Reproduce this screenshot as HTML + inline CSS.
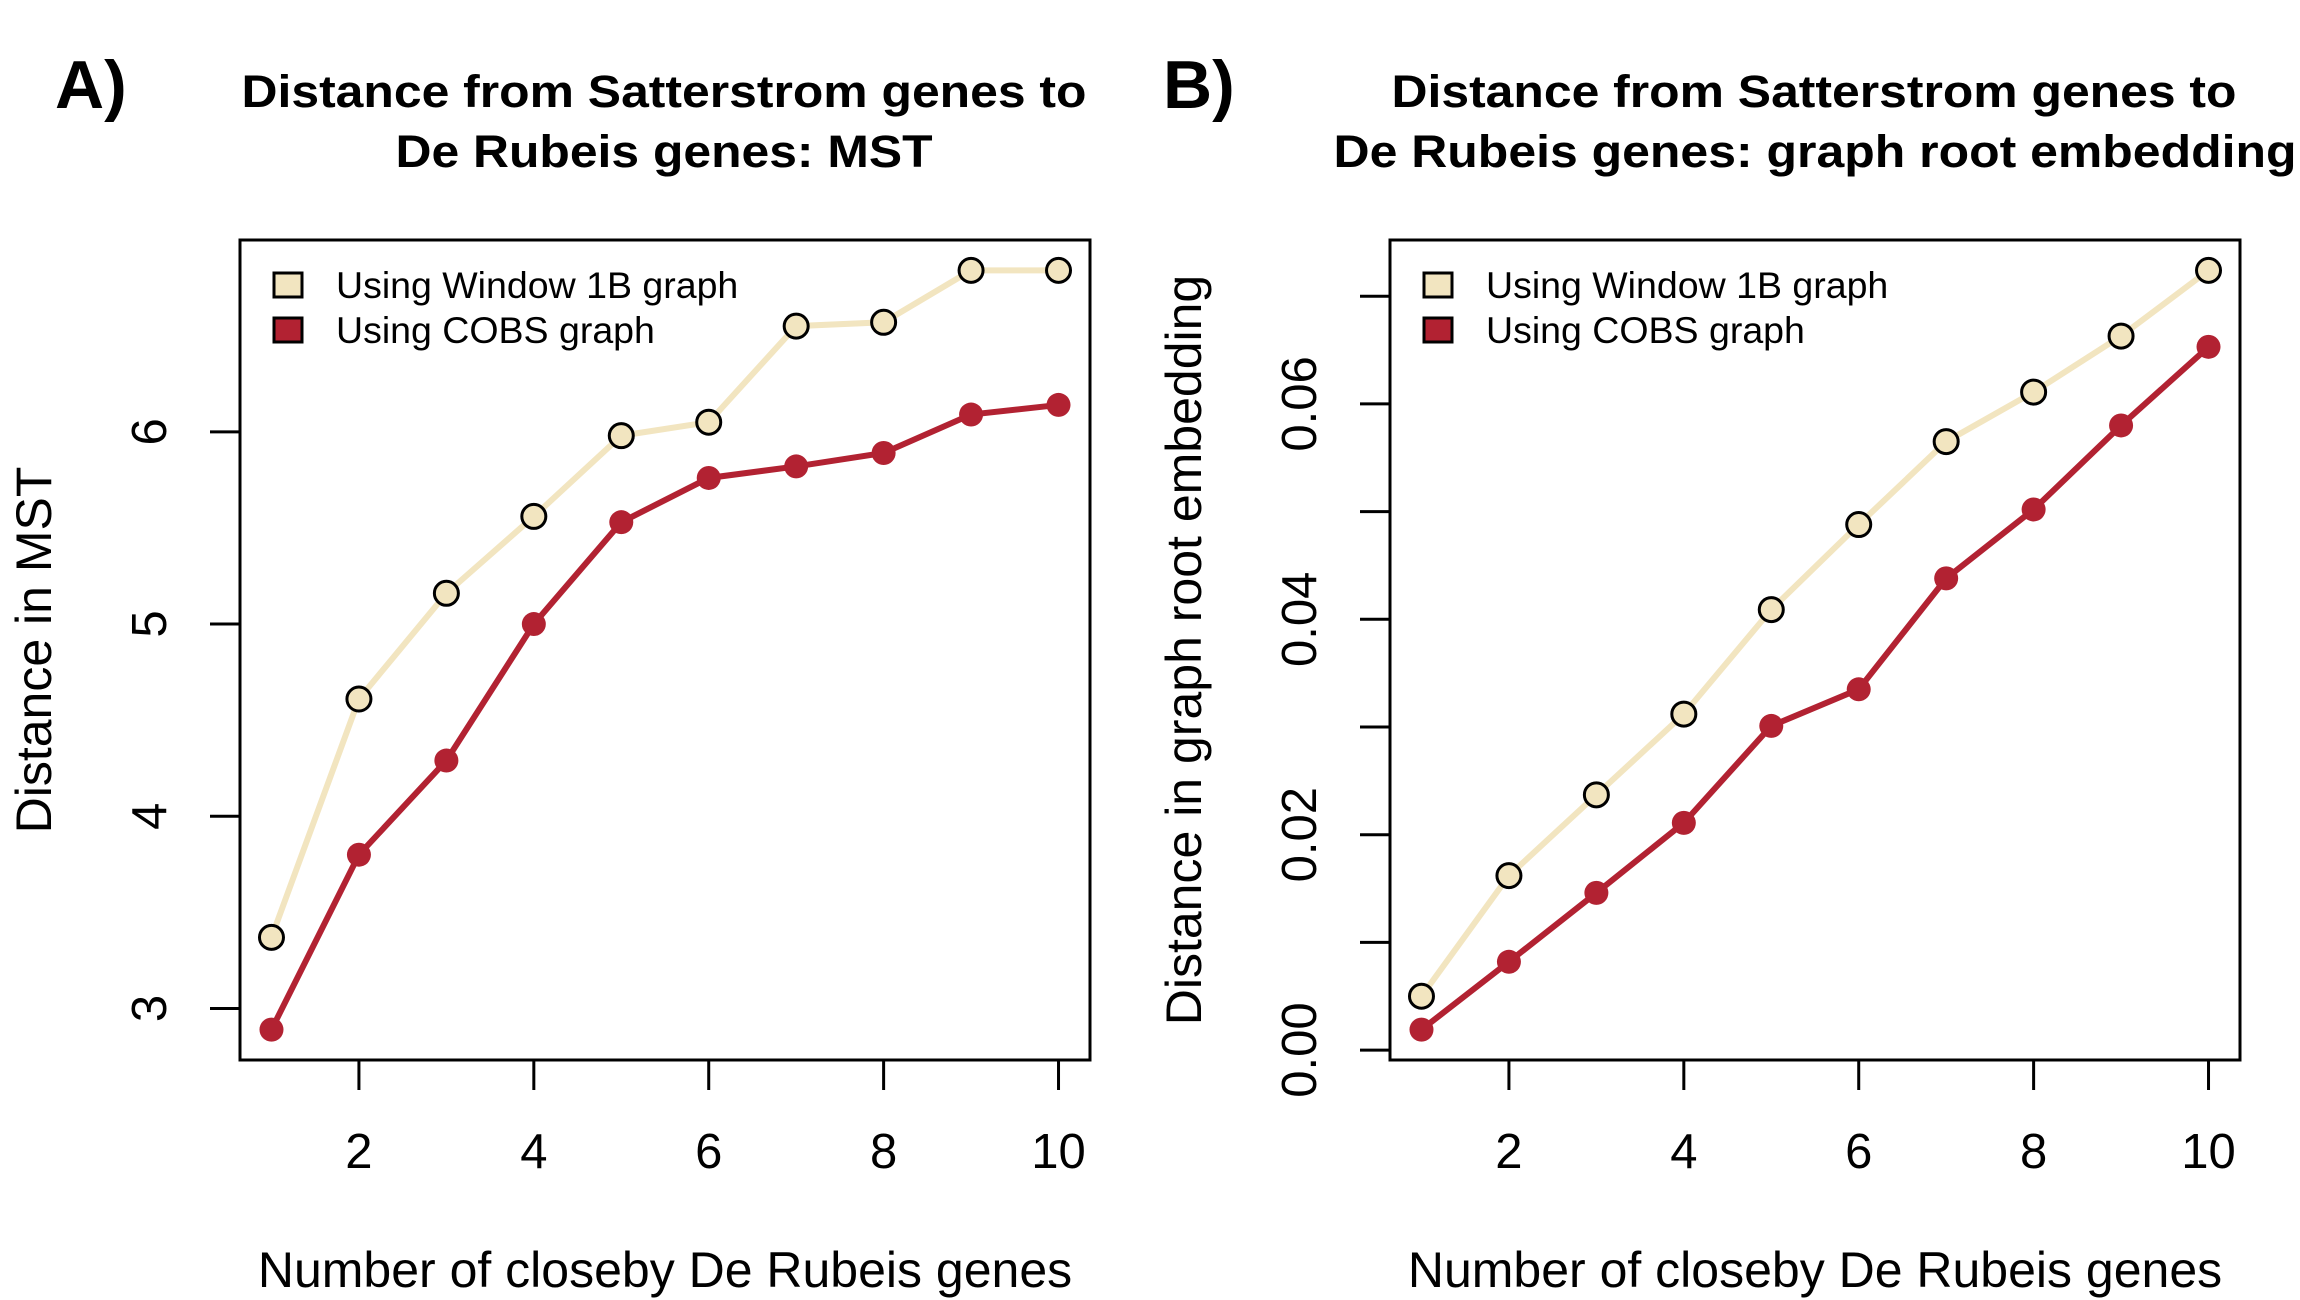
<!DOCTYPE html>
<html><head><meta charset="utf-8"><style>
html,body{margin:0;padding:0;background:#fff;}
svg{display:block;font-family:"Liberation Sans",Arial,sans-serif;}
</style></head><body>
<svg id="chart" xmlns="http://www.w3.org/2000/svg" width="2300" height="1300" viewBox="0 0 2300 1300">
<rect width="2300" height="1300" fill="#fff"/>
<text x="55" y="108" font-size="68" font-weight="bold">A)</text>
<text x="1163" y="108" font-size="68" font-weight="bold">B)</text>
<text x="664" y="107" font-size="45" font-weight="bold" text-anchor="middle" textLength="845" lengthAdjust="spacingAndGlyphs">Distance from Satterstrom genes to</text>
<text x="664" y="167" font-size="45" font-weight="bold" text-anchor="middle" textLength="537" lengthAdjust="spacingAndGlyphs">De Rubeis genes: MST</text>
<text x="1814" y="107" font-size="45" font-weight="bold" text-anchor="middle" textLength="845" lengthAdjust="spacingAndGlyphs">Distance from Satterstrom genes to</text>
<text x="1815" y="167" font-size="45" font-weight="bold" text-anchor="middle" textLength="963" lengthAdjust="spacingAndGlyphs">De Rubeis genes: graph root embedding</text>
<g id="pa"></g><g id="pb"></g>
</svg>
<script>
const xValues = [1,2,3,4,5,6,7,8,9,10];
const xTicks = [2,4,6,8,10];
const mstWindow = [3.37,4.61,5.16,5.56,5.98,6.05,6.55,6.57,6.84,6.84];
const mstCobs = [2.89,3.80,4.29,5.00,5.53,5.76,5.82,5.89,6.09,6.14];
const mstTicks = [3,4,5,6];
const mstTickLabels = ["3","4","5","6"];
const groWindow = [0.0050,0.0162,0.0237,0.0312,0.0409,0.0488,0.0565,0.0611,0.0663,0.0724];
const groCobs = [0.0019,0.0082,0.0146,0.0211,0.0301,0.0335,0.0438,0.0502,0.0580,0.0653];
const groTicks = [0,0.01,0.02,0.03,0.04,0.05,0.06,0.07];
const groTickLabels = ["0.00","","0.02","","0.04","","0.06",""];
const legendLabels = ["Using Window 1B graph","Using COBS graph"];
const colWindow = "#F2E5C0", colCobs = "#B22232";
const NS="http://www.w3.org/2000/svg";
function mk(p,tag,a,txt){const e=document.createElementNS(NS,tag);for(const k in a)e.setAttribute(k,a[k]);if(txt!==undefined)e.textContent=txt;p.appendChild(e);return e;}
function panel(g,L,ymin,ymax,yTicks,yLabels,s1,s2,ytitle,key){
  const R=L+850,T=240,B=1060;
  const xmin=1,xmax=10,xr=xmax-xmin,yr=ymax-ymin;
  const X=v=>L+(v-(xmin-0.04*xr))/(xr*1.08)*(R-L);
  const Y=v=>B-(v-(ymin-0.04*yr))/(yr*1.08)*(B-T);
  xTicks.forEach(t=>{
    const l=mk(g,'line',{x1:X(t),x2:X(t),y1:B,y2:B+30,stroke:'#000','stroke-width':3});
    
    
    const tx=mk(g,'text',{x:X(t),y:1168,'font-size':49,'text-anchor':'middle'},String(t));
    
    
  });
  yTicks.forEach((t,i)=>{
    const l=mk(g,'line',{x1:L-30,x2:L,y1:Y(t),y2:Y(t),stroke:'#000','stroke-width':3});
    
    
    if(yLabels[i]){
      const tx=mk(g,'text',{x:0,y:0,'font-size':49,'text-anchor':'middle',transform:`translate(${L-74},${Y(t)}) rotate(-90)`},yLabels[i]);
      
      
    }
  });
  const xt=mk(g,'text',{x:(L+R)/2,y:1287,'font-size':50,'text-anchor':'middle'},'Number of closeby De Rubeis genes');
  
  
  const yt=mk(g,'text',{x:0,y:0,'font-size':50,'text-anchor':'middle',transform:`translate(${L-189},${(T+B)/2}) rotate(-90)`},ytitle);
  
  
  [[s1,colWindow,'window-1b'],[s2,colCobs,'cobs']].forEach(([s,c,n])=>{
    const pl=mk(g,'polyline',{points:xValues.map((x,i)=>X(x)+','+Y(s[i])).join(' '),fill:'none',stroke:c,'stroke-width':6});
    
    
    xValues.forEach((x,i)=>{
      const a={cx:X(x),cy:Y(s[i]),r:12,fill:c};
      if(c===colWindow){a.stroke='#000';a['stroke-width']=3;}
      const p=mk(g,'circle',a);
      
      
    });
  });
  const box=mk(g,'rect',{x:L,y:T,width:R-L,height:B-T,fill:'none',stroke:'#000','stroke-width':3});
  
  
  [[colWindow,285],[colCobs,330]].forEach(([c,cy],i)=>{
    const sq=mk(g,'rect',{x:L+34,y:cy-12,width:28,height:24,fill:c,stroke:'#000','stroke-width':3});
    
    
    const lt=mk(g,'text',{x:L+96,y:cy+13,'font-size':37.5},legendLabels[i]);
    
    
  });
}
const ga=document.getElementById('pa');


const gb=document.getElementById('pb');


panel(ga,240,Math.min(...mstCobs),Math.max(...mstWindow),mstTicks,mstTickLabels,mstWindow,mstCobs,'Distance in MST');
panel(gb,1390,Math.min(...groCobs),Math.max(...groWindow),groTicks,groTickLabels,groWindow,groCobs,'Distance in graph root embedding');
</script>
</body></html>
